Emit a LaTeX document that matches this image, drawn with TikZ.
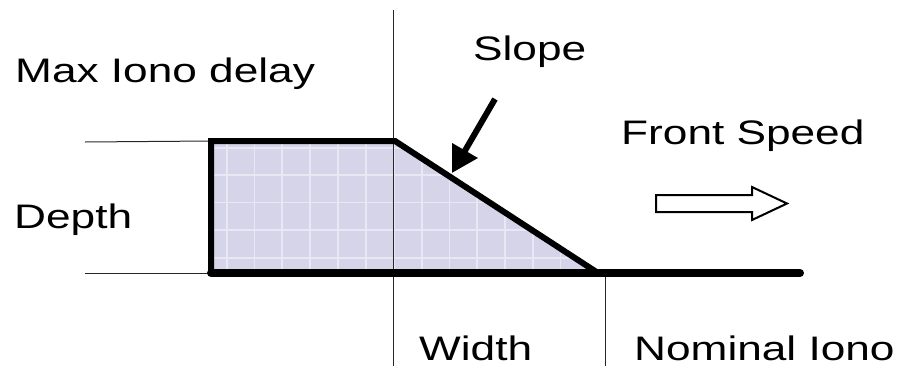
\documentclass[tikz,border=0pt]{standalone}
\usepackage{fontspec}
\setmainfont{Liberation Sans}
\usetikzlibrary{arrows.meta}
\definecolor{lav}{RGB}{214,212,232}
\definecolor{gridc}{RGB}{232,231,243}
\tikzset{
  lbl/.style={anchor=base west,inner sep=0pt,font=\fontsize{34}{40}\selectfont},
  thin/.style={line width=1pt,black!85},
  thick/.style={line width=6pt,line join=miter},
}
\newcommand{\wide}[1]{\scalebox{1.3}[1]{#1}}
\begin{document}
\begin{tikzpicture}[x=1pt,y=-1pt]
\useasboundingbox (0,0) rectangle (902,378);
% coordinates
\coordinate (tl) at (211,141);
\coordinate (tr) at (395,141);
\coordinate (br) at (598,273);
\coordinate (bl) at (211,273);
\coordinate (bend) at (800,273);
% fill with grid
\fill[lav] (tl) -- (tr) -- (br) -- (bl) -- cycle;
\begin{scope}
\clip (tl) -- (tr) -- (br) -- (bl) -- cycle;
\foreach \x in {227,254.5,282,310,338,366,394,422,449.5,477,505,533,560.5,588}
  \draw[gridc,line width=1.2pt] (\x,130) -- (\x,280);
\foreach \y in {148,175,202.5,230,258}
  \draw[gridc,line width=1.2pt] (200,\y) -- (610,\y);
\end{scope}
% thin guide lines
\draw[thin] (393,10) -- (393,366);
\draw[thin] (605,273) -- (605,366);
\draw[thin] (85,142) -- (tl);
\draw[thin] (85,273) -- (bl);
% outline
\draw[thick] (bl) -- (tl) -- (tr) -- (br);
\draw[line width=8pt,line cap=round] (bl) -- (bend);
% slope arrow
\coordinate (sa) at (495,99);
\coordinate (sb) at (452,173);
\draw[line width=6pt,-{Triangle[length=26pt,width=28pt]}] (sa) -- (sb);
% hollow arrow
\draw[line width=2pt,line join=miter] (656,195) -- (752,195) -- (752,187) -- (787,203.5) -- (752,220) -- (752,212) -- (656,212) -- cycle;
% labels
\node[lbl] (maxd) at (15,82) {\wide{Max Iono delay}};
\node[lbl] (slope) at (473,60) {\wide{Slope}};
\node[lbl] (front) at (621,144) {\wide{Front Speed}};
\node[lbl] (depth) at (14,228) {\wide{Depth}};
\node[lbl] (width) at (419,360) {\wide{Width}};
\node[lbl] (nomi) at (634,360) {\wide{Nominal Iono}};
\end{tikzpicture}
\end{document}
